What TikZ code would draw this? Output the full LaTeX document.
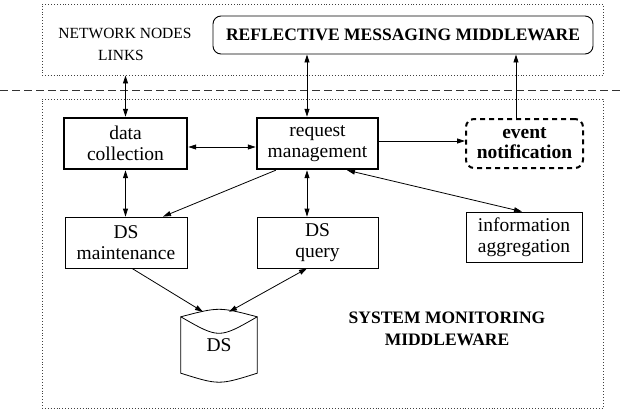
\documentclass[tikz,border=0pt]{standalone}
\usepackage{fontspec}
\setmainfont{Liberation Serif}
\usetikzlibrary{arrows.meta,calc}

\begin{document}
\begin{tikzpicture}[x=1pt,y=-1pt,
    region/.style={draw=black!75, dotted, line width=0.9pt, inner sep=0pt},
    block/.style={draw, line width=0.8pt, inner sep=0pt, align=center,
      font=\fontsize{19.5}{20.5}\selectfont},
    mainblock/.style={block, line width=2.4pt},
    arrow/.style={-{Triangle[length=8pt,width=5pt]}, line width=0.8pt},
    biarrow/.style={{Triangle[length=8pt,width=5pt]}-{Triangle[length=8pt,width=5pt]}, line width=0.8pt},
    caps/.style={font=\fontsize{15.5}{24}\selectfont, align=center},
    title/.style={font=\bfseries\fontsize{17.5}{22}\selectfont, align=center}]
   \useasboundingbox (0,0) rectangle (621,412);

   % the two regions and the separator
   \node[region, minimum width=561, minimum height=71] (netbox) at (322.5,39.5) {};
   \node[region, minimum width=561, minimum height=309] (monbox) at (322.5,253.5) {};
   \draw[black!80, line width=0.9pt, dash pattern=on 8pt off 4pt] (0,90) -- (621,90);

   % upper region
   \node[caps] (netnodes) at (125,33) {NETWORK NODES};
   \node[caps] (links) at (121,55) {LINKS};
   \node[draw, line width=0.9pt, rounded corners=8pt, minimum width=380, minimum height=38,
     title] (refl) at (403,35) {REFLECTIVE MESSAGING MIDDLEWARE};

   % monitoring middleware
   \node[mainblock, minimum width=123, minimum height=51] (dcoll) at (125.5,143.5) {data\\collection};
   \node[mainblock, minimum width=121, minimum height=51] (reqm) at (317.5,143.5) {request\\management};
   \node[block, dashed, line width=2pt, dash pattern=on 5pt off 4pt, rounded corners=8pt,
     minimum width=117, minimum height=49, font=\bfseries\fontsize{19.5}{20}\selectfont]
     (evnt) at (524.5,143.5) {event\\notification};
   \node[block, minimum width=122, minimum height=51] (dsmaint) at (126,242.5) {DS\\maintenance};
   \node[block, minimum width=121, minimum height=51] (dsquery) at (317.5,242.5) {DS\\query};
   \node[block, minimum width=116, minimum height=50] (infoagg) at (524,237) {information\\aggregation};
   \node[font=\fontsize{19.5}{17}\selectfont, minimum width=76, minimum height=67, inner sep=0pt]
     (ds) at (219,345.5) {DS};
   \node[title] (sysmon) at (447,329) {SYSTEM MONITORING\\MIDDLEWARE};

   % DS cylinder
   \draw[line width=0.8pt] ($(ds.north west)+(0,5)$) .. controls ($(ds.north)+(0,-5)$) .. ($(ds.north east)+(0,5)$)
     -- ($(ds.south east)+(0,-6)$) .. controls ($(ds.south)+(0,6)$) .. ($(ds.south west)+(0,-6)$) -- cycle;
   \draw[line width=0.8pt] ($(ds.north west)+(0,5)$) .. controls ($(ds.north)+(0,27)$) .. ($(ds.north east)+(0,5)$);

   % connectors
   \coordinate (rq-up) at ([xshift=-10.5pt]reqm.north);
   \coordinate (rq-dn) at ([xshift=-10.5pt]reqm.south);
   \coordinate (ev-up) at ([xshift=-8.5pt]evnt.north);
   \draw[biarrow] (dcoll.north) -- (dcoll.north |- netbox.south);
   \draw[biarrow] (rq-up) -- (rq-up |- refl.south);
   \draw[arrow] (ev-up) -- (ev-up |- refl.south);
   \draw[biarrow] ([yshift=-3.5pt]dcoll.east) -- ([yshift=-3.5pt]reqm.west);
   \draw[arrow] ([yshift=2.5pt]reqm.east) -- ([yshift=2.5pt]evnt.west);
   \draw[biarrow] (dcoll.south) -- (dcoll.south |- dsmaint.north);
   \draw[biarrow] (rq-dn) -- (rq-dn |- dsquery.north);
   \draw[arrow] ([xshift=20pt]reqm.south west) -- ([xshift=37pt]dsmaint.north);
   \draw[biarrow] ([xshift=29.5pt]reqm.south) -- ([xshift=-2pt]infoagg.north);
   \draw[arrow] ([xshift=6pt]dsmaint.south) -- ([xshift=-16pt]ds.north);
   \draw[biarrow] ([xshift=10pt]ds.north) -- ([xshift=-10.5pt]dsquery.south);
\end{tikzpicture}
\end{document}
